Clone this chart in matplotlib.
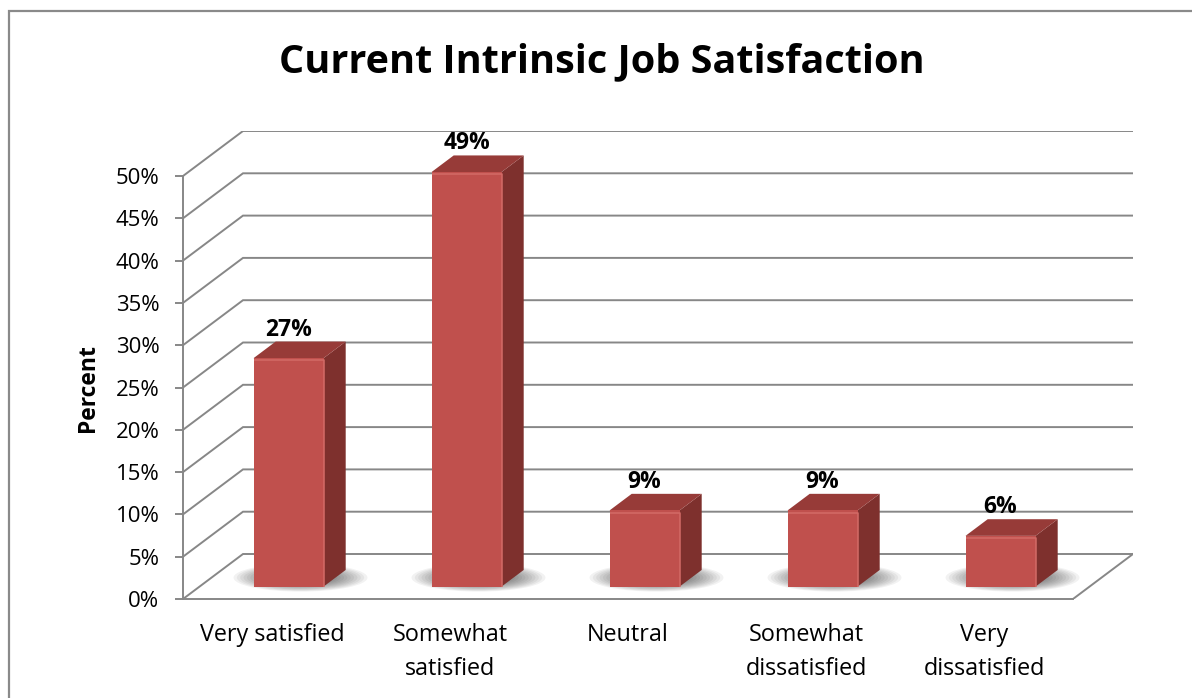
import matplotlib
matplotlib.use("Agg")
import matplotlib.pyplot as plt
from matplotlib.patches import Polygon, Rectangle, Ellipse
import numpy as np

categories = ["Very satisfied", "Somewhat\nsatisfied", "Neutral",
              "Somewhat\ndissatisfied", "Very\ndissatisfied"]
percent = [27, 49, 9, 9, 6]
yticks = [0, 5, 10, 15, 20, 25, 30, 35, 40, 45, 50]

plt.rcParams["font.family"] = ["Open Sans", "DejaVu Sans"]

W, H = 1192, 698
fig = plt.figure(figsize=(W / 100, H / 100), dpi=100)

# pixel scale of the plot area and the oblique depth offset (data units)
PX_CAT, PX_PCT = 178.0, 8.46
DX = 60 / PX_CAT
DY = 45 / PX_PCT
XMIN, XMAX = -0.5, len(categories) - 0.5 + DX
YMAX = yticks[-1] + DY
LEFT_PX, ZERO_PX = 183, 599

ax = fig.add_axes([LEFT_PX / W, (H - ZERO_PX) / H,
                   (XMAX - XMIN) * PX_CAT / W, YMAX * PX_PCT / H])
ax.set_xlim(XMIN, XMAX)
ax.set_ylim(0, YMAX)

grid = "#878787"
LW = 1.4


def proj(x, y, z):
    return x + z * DX, y + z * DY


# side wall and back wall gridlines
xr_floor = len(categories) - 0.5
for t in yticks:
    bx, by = proj(XMIN, t, 1)
    ax.plot([XMIN, bx, proj(xr_floor, t, 1)[0]], [t, by, by],
            color=grid, lw=LW, zorder=1, solid_joinstyle="miter")
# floor edge on the right
fx, fy = proj(xr_floor, 0, 1)
ax.plot([xr_floor, fx], [0, fy], color=grid, lw=LW, zorder=1)

# bars
BW = 70 / PX_CAT
Z0, Z1 = 0.275, 0.645
front_c, side_c, top_c = "#C0504D", "#7E302D", "#973B38"
for i, v in enumerate(percent):
    xl = i - BW / 2 + Z0 * DX
    xr = i + BW / 2 + Z0 * DX
    yb = Z0 * DY
    ddx, ddy = (Z1 - Z0) * DX, (Z1 - Z0) * DY

    # soft shadow on the floor around the base
    cx, cy = (xl + xr) / 2 + 12 / PX_CAT, yb + 9 / PX_PCT
    for s in np.linspace(1.0, 0.45, 12):
        ax.add_patch(Ellipse((cx, cy), 134 / PX_CAT * s, 28 / PX_PCT * s,
                             facecolor="#000000", edgecolor="none",
                             alpha=0.05, zorder=2))

    ax.add_patch(Polygon([(xr, yb), (xr + ddx, yb + ddy),
                          (xr + ddx, v + yb + ddy), (xr, v + yb)],
                         closed=True, facecolor=side_c, edgecolor="none",
                         zorder=3))
    ax.add_patch(Polygon([(xl, v + yb), (xr, v + yb),
                          (xr + ddx, v + yb + ddy), (xl + ddx, v + yb + ddy)],
                         closed=True, facecolor=top_c, edgecolor="none",
                         zorder=3))
    ax.add_patch(Rectangle((xl, yb), BW, v, facecolor=front_c,
                           edgecolor="none", zorder=4))
    # thin bevel highlight along the top and right edges of the front face
    ax.plot([xl, xr, xr], [v + yb - 0.25, v + yb - 0.25, yb],
            color="#D36B67", lw=1.1, zorder=5, solid_capstyle="butt")

    ax.annotate(f"{v}%", xy=(i + Z0 * DX, v + Z1 * DY), xytext=(0, 0),
                textcoords="offset points", ha="center", va="bottom",
                fontsize=16.5, fontweight="bold", color="black", zorder=6)

# axes
for s in ["top", "right"]:
    ax.spines[s].set_visible(False)
ax.spines["left"].set_bounds(0, yticks[-1])
ax.spines["bottom"].set_bounds(XMIN, xr_floor)
for s in ["left", "bottom"]:
    ax.spines[s].set_color(grid)
    ax.spines[s].set_linewidth(LW)
    ax.spines[s].set_zorder(1)

ax.set_yticks(yticks)
ax.set_yticklabels([f"{t}%" for t in yticks])
ax.tick_params(axis="y", direction="out", length=6, width=LW, color=grid,
               labelsize=16, pad=11)
ax.set_xticks(range(len(categories)))
ax.set_xticklabels(categories, linespacing=1.6)
ax.tick_params(axis="x", length=0, labelsize=16.8, pad=17)

fig.text(602 / W, 1 - 62 / H, "Current Intrinsic Job Satisfaction",
         ha="center", va="center", fontsize=28.5, fontweight="bold")
fig.text(88 / W, 1 - 388 / H, "Percent", ha="center", va="center",
         rotation=90, fontsize=16.5, fontweight="bold")

# chart border
fig.add_artist(Rectangle((9 / W, -0.05), 1.2, 1 - 11 / H + 0.05,
                         transform=fig.transFigure, fill=False,
                         edgecolor="#8A8A8A", lw=1.6))

fig.savefig("out.png", dpi=100)
